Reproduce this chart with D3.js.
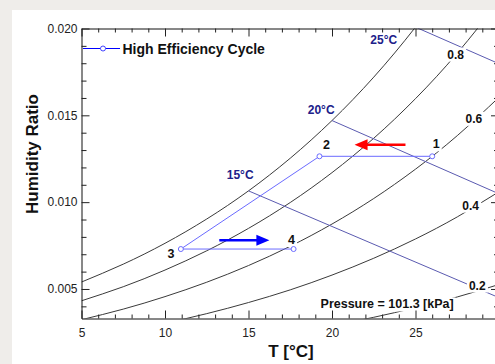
<!DOCTYPE html>
<html><head><meta charset="utf-8">
<script src="https://cdn.jsdelivr.net/npm/d3@7"></script>
<style>html,body{margin:0;padding:0;background:#efedea;} svg{display:block;}</style>
</head><body>
<svg id="c" width="495" height="364"></svg>
<script>
// ---- data ----
const temps = [5, 7.5, 10, 12.5, 15, 17.5, 20, 22.5, 25, 27.5, 30];
const rh100 = [0.00540, 0.00643, 0.00763, 0.00903, 0.01065, 0.01253, 0.01470, 0.01720, 0.02008, 0.02340, 0.02720];
const rh80  = [0.00432, 0.00513, 0.00609, 0.00720, 0.00849, 0.00998, 0.01170, 0.01368, 0.01596, 0.01858, 0.02157];
const rh60  = [0.00323, 0.00384, 0.00456, 0.00539, 0.00635, 0.00746, 0.00874, 0.01021, 0.01190, 0.01383, 0.01604];
const rh40  = [0.00215, 0.00256, 0.00303, 0.00358, 0.00422, 0.00495, 0.00580, 0.00677, 0.00788, 0.00915, 0.01060];
const rh20  = [0.00107, 0.00128, 0.00151, 0.00179, 0.00210, 0.00247, 0.00289, 0.00337, 0.00392, 0.00454, 0.00526];
const rhLabels = ["0.8", "0.6", "0.4", "0.2"];
const rhLabelT = [27.4, 28.5, 28.3, 28.7];
const rhLabelW = [0.0185, 0.0148, 0.0098, 0.0052];

const wbLabels = ["15°C", "20°C", "25°C"];
const wbStartT = [15, 20, 25];
const wbStartW = [0.01065, 0.01470, 0.02008];
const wbEndT = [30, 30, 30];
const wbEndW = [0.00450, 0.01048, 0.01797];
const wbLabelT = [14.5, 19.35, 23.1];
const wbLabelW = [0.01158, 0.01533, 0.01933];

const cycleName = "High Efficiency Cycle";
const cycleLabels = ["1", "2", "3", "4"];
const cycleT = [26.0, 19.25, 10.95, 17.7];
const cycleW = [0.01264, 0.01264, 0.00730, 0.00730];

const arrowRedT = [24.4, 21.35];
const arrowRedW = [0.01330, 0.01330];
const arrowBlueT = [13.25, 16.25];
const arrowBlueW = [0.00780, 0.00780];

const xMajor = [5, 10, 15, 20, 25];
const yMajor = [0.005, 0.010, 0.015, 0.020];
const pressureText = "Pressure = 101.3 [kPa]";

// ---- drawing ----
const W = 495, H = 364;
const FONT = "'Liberation Sans', Arial, sans-serif";
const svg = d3.select("#c");
svg.append("rect").attr("width", W).attr("height", H).attr("fill", "#efedea");
svg.append("rect").attr("x", 12).attr("y", 10).attr("width", W - 12).attr("height", H - 10).attr("fill", "#ffffff");

const x = d3.scaleLinear().domain([5, 30]).range([81.5, 499]);
const y = d3.scaleLinear().domain([0.0033, 0.020]).range([318.5, 28.5]);

svg.append("clipPath").attr("id", "clip").append("rect")
  .attr("x", 81.5).attr("y", 28.5).attr("width", 499 - 81.5).attr("height", 290);

const plot = svg.append("g").attr("clip-path", "url(#clip)");

// RH curves
const line = d3.line().x(d => x(d[0])).y(d => y(d[1])).curve(d3.curveNatural);
[rh100, rh80, rh60, rh40, rh20].forEach(arr => {
  plot.append("path").datum(temps.map((t, i) => [t, arr[i]]))
    .attr("d", line).attr("fill", "none").attr("stroke", "#3a3a3a").attr("stroke-width", 1);
});

// wet-bulb lines
wbLabels.forEach((lab, i) => {
  plot.append("line")
    .attr("x1", x(wbStartT[i])).attr("y1", y(wbStartW[i]))
    .attr("x2", x(wbEndT[i])).attr("y2", y(wbEndW[i]))
    .attr("stroke", "#5a5ab0").attr("stroke-width", 1);
});

function bgText(g, px, py, txt, size, color, weight) {
  const t = g.append("text").attr("x", px).attr("y", py)
    .attr("text-anchor", "middle").attr("dominant-baseline", "central")
    .attr("font-family", FONT).attr("font-size", size).attr("font-weight", weight || "bold")
    .attr("fill", color).text(txt);
  const bb = t.node().getBBox();
  g.insert("rect", () => t.node())
    .attr("x", bb.x - 2).attr("y", bb.y).attr("width", bb.width + 4).attr("height", bb.height)
    .attr("fill", "#ffffff");
  return t;
}

const ann = svg.append("g");
rhLabels.forEach((lab, i) => bgText(ann, x(rhLabelT[i]), y(rhLabelW[i]), lab, 12, "#111"));
bgText(ann, x(23.3), y(0.00411), pressureText, 12.5, "#111");

wbLabels.forEach((lab, i) => {
  ann.append("text").attr("x", x(wbLabelT[i])).attr("y", y(wbLabelW[i]))
    .attr("text-anchor", "middle").attr("dominant-baseline", "central")
    .attr("font-family", FONT).attr("font-size", 12).attr("font-weight", "bold")
    .attr("fill", "#20208a").text(lab);
});

// cycle
const cyc = cycleT.map((t, i) => [t, cycleW[i]]);
const cycColor = "#6b6bff";
svg.append("path").datum(cyc).attr("d", d3.line().x(d => x(d[0])).y(d => y(d[1])))
  .attr("fill", "none").attr("stroke", cycColor).attr("stroke-width", 1);
svg.selectAll(".pt").data(cyc).enter().append("circle")
  .attr("cx", d => x(d[0])).attr("cy", d => y(d[1])).attr("r", 2.5)
  .attr("fill", "#fff").attr("stroke", cycColor).attr("stroke-width", 1);

const labOff = [[4, -12], [7, -11], [-10, 5], [-2, -9]];
cycleLabels.forEach((lab, i) => {
  bgText(ann, x(cycleT[i]) + labOff[i][0], y(cycleW[i]) + labOff[i][1], lab, 12.5, "#111");
});

// arrows
function arrow(t, w, color) {
  const x1 = x(t[0]), x2 = x(t[1]), yy = y(w[0]);
  const dir = Math.sign(x2 - x1), hl = 13, hw = 5.5;
  svg.append("line").attr("x1", x1).attr("y1", yy).attr("x2", x2 - dir * hl + dir).attr("y2", yy)
    .attr("stroke", color).attr("stroke-width", 2.5);
  svg.append("path").attr("d", `M${x2},${yy}L${x2 - dir * hl},${yy - hw}L${x2 - dir * hl},${yy + hw}Z`)
    .attr("fill", color);
}
arrow(arrowRedT, arrowRedW, "#ff0000");
arrow(arrowBlueT, arrowBlueW, "#0000ff");

// axes
function styleAxis(g) {
  g.selectAll("path.domain").attr("stroke", "#111");
  g.selectAll(".tick line").attr("stroke", "#222");
  g.selectAll("text").attr("font-family", FONT).attr("font-size", 12).attr("fill", "#222");
}
const xMinor = d3.range(5, 30.01, 1).filter(v => !xMajor.includes(v));
const yMinor = d3.range(4, 20, 1).map(v => v / 1000).filter(v => !yMajor.some(m => Math.abs(m - v) < 1e-9));

const gb = svg.append("g").attr("transform", "translate(0,318.5)");
gb.call(d3.axisBottom(x).tickValues(xMajor).tickSize(-8).tickSizeOuter(0).tickPadding(10).tickFormat(d3.format("d")));
gb.append("g").call(d3.axisBottom(x).tickValues(xMinor).tickSize(-4).tickFormat("")).select(".domain").remove();
styleAxis(gb);

const gt = svg.append("g").attr("transform", "translate(0,28.5)");
gt.call(d3.axisTop(x).tickValues(xMajor).tickSize(-8).tickSizeOuter(0).tickFormat(""));
gt.append("g").call(d3.axisTop(x).tickValues(xMinor).tickSize(-4).tickFormat("")).select(".domain").remove();
styleAxis(gt);

const gl = svg.append("g").attr("transform", "translate(81.5,0)");
gl.call(d3.axisLeft(y).tickValues(yMajor).tickSize(-8).tickSizeOuter(0).tickPadding(4).tickFormat(d3.format(".3f")));
gl.append("g").call(d3.axisLeft(y).tickValues(yMinor).tickSize(-5).tickFormat("")).select(".domain").remove();
styleAxis(gl);

const gr = svg.append("g").attr("transform", "translate(499,0)");
gr.call(d3.axisRight(y).tickValues(yMajor).tickSize(-8).tickSizeOuter(0).tickFormat(""));
gr.append("g").call(d3.axisRight(y).tickValues(yMinor).tickSize(-5).tickFormat("")).select(".domain").remove();
styleAxis(gr);

// titles
svg.append("text").attr("x", 291).attr("y", 357).attr("text-anchor", "middle")
  .attr("font-family", FONT).attr("font-size", 17).attr("font-weight", "bold").attr("fill", "#111")
  .text("T [°C]");
svg.append("text").attr("transform", "translate(37.5,154) rotate(-90)").attr("text-anchor", "middle")
  .attr("font-family", FONT).attr("font-size", 17).attr("font-weight", "bold").attr("fill", "#111")
  .text("Humidity Ratio");

// legend
const lg = svg.append("g");
lg.append("line").attr("x1", 83).attr("x2", 120).attr("y1", 48.5).attr("y2", 48.5)
  .attr("stroke", "#0000ff").attr("stroke-width", 1);
lg.append("circle").attr("cx", 103).attr("cy", 48.5).attr("r", 2.5)
  .attr("fill", "#fff").attr("stroke", "#4444ff");
lg.append("text").attr("x", 122.5).attr("y", 53.5)
  .attr("font-family", FONT).attr("font-size", 14).attr("font-weight", "bold").attr("fill", "#111")
  .text(cycleName);
</script>
</body></html>
